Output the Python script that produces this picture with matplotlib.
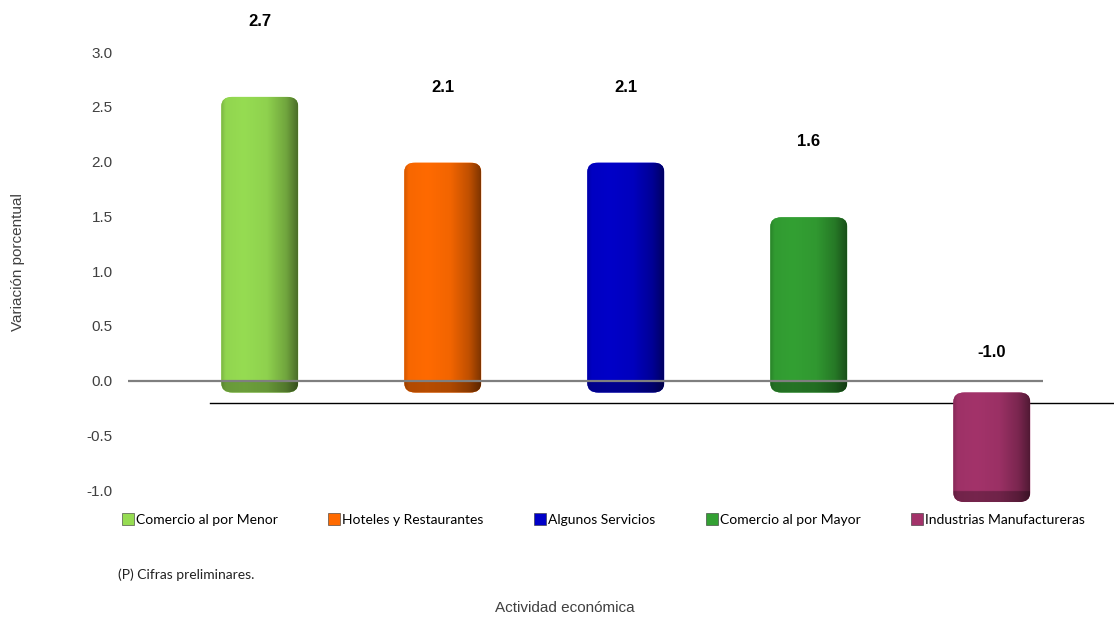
# Variación porcentual por actividad económica (gráfico de cilindros)

import numpy as np
import matplotlib.pyplot as plt
from matplotlib import transforms
from matplotlib.patches import FancyBboxPatch
from matplotlib.lines import Line2D
from matplotlib.colors import to_rgb

# Datos
categories = ["Comercio al por Menor", "Hoteles y Restaurantes", "Algunos Servicios",
              "Comercio al por Mayor", "Industrias Manufactureras"]
values = [2.7, 2.1, 2.1, 1.6, -1.0]
colors = ["#96DC52", "#FF6A00", "#0000C8", "#33A033", "#A3336A"]
yticks = [-1.0, -0.5, 0.0, 0.5, 1.0, 1.5, 2.0, 2.5, 3.0]

arial = "Liberation Sans"
calibri = "Lato"

fig = plt.figure(figsize=(11.14, 6.17), dpi=100)
ax = fig.add_axes([0.1149, 0.2058, 0.8214, 0.7099])

x = np.arange(len(categories))

# los cilindros quedan un poco por delante de la pared del fondo
depth = transforms.offset_copy(ax.transData, fig=fig, x=0, y=-12, units="dots")


def shade(color, h):
    # degradado tipo cilindro: oscuro a la derecha y en la base
    base = np.array(to_rgb(color))
    t = np.linspace(0, 1, 200)
    f = np.interp(t, [0, 0.06, 0.3, 0.6, 0.85, 1.0], [0.82, 0.97, 1.0, 0.95, 0.75, 0.5])
    rows = 300
    s = np.linspace(0, 1, rows)[:, None]          # 0 = arriba, 1 = abajo
    band = 0.1 / h
    v = np.where(s > 1 - band, 0.72, 1.0)
    fac = f[None, :] * v
    return np.clip(base[None, None, :] * fac[:, :, None], 0, 1)


bars = ax.bar(x, values, width=0.42, color=colors)
for bar, c in zip(bars, colors):
    bar.set_visible(False)
    x0, w = bar.get_x(), bar.get_width()
    y0 = min(bar.get_y(), bar.get_y() + bar.get_height())
    h = abs(bar.get_height())
    body = FancyBboxPatch((x0, y0), w, h, boxstyle="round,pad=0,rounding_size=0.06",
                          mutation_aspect=1.4, facecolor=c, edgecolor="none",
                          transform=depth, clip_on=False, zorder=2)
    ax.add_patch(body)
    im = ax.imshow(shade(c, h), extent=[x0, x0 + w, y0, y0 + h], aspect="auto",
                   origin="upper", transform=depth, zorder=2.1, interpolation="bilinear")
    im.set_clip_path(body)
    im.set_clip_box(fig.bbox)

# linea del cero (pared del fondo) y borde del piso
ax.axhline(0, color="#7f7f7f", lw=1.6, zorder=3)
floor = transforms.offset_copy(ax.transData, fig=fig, x=82, y=-22, units="dots")
ax.plot([-0.72, 4.28], [0, 0], color="black", lw=1.0, transform=floor, clip_on=False, zorder=1)

# etiquetas de datos
for xi, v in zip(x, values):
    ly = v + 0.58 if v > 0 else 0.26
    ax.text(xi, ly, f"{v:.1f}", ha="center", va="center", fontsize=12,
            fontweight="bold", family=arial, color="black")

ax.set_xlim(-0.72, 4.28)
ax.set_ylim(-1.0, 3.0)
ax.set_xticks([])
ax.set_yticks(yticks)
ax.set_yticklabels([f"{t:.1f}" for t in yticks], family=arial, fontsize=11, color="#404040")
ax.tick_params(axis="y", length=0, pad=11)
for s in ax.spines.values():
    s.set_visible(False)

fig.text(18 / 1114, 1 - 262 / 617, "Variación porcentual", rotation=90, ha="center",
         va="center", family=arial, fontsize=11, color="#404040")
fig.text(565 / 1114, 1 - 608 / 617, "Actividad económica", ha="center", va="center",
         family=arial, fontsize=11, color="#404040")
fig.text(118 / 1114, 1 - 575 / 617, "(P) Cifras preliminares.", ha="left", va="center",
         family=calibri, fontsize=10, color="#222222")

handles = [Line2D([], [], ls="none", marker="s", markersize=8, markerfacecolor=c,
                  markeredgecolor="#333333", markeredgewidth=0.4) for c in colors]
fig.legend(handles, categories, loc="center", bbox_to_anchor=(604 / 1114, 1 - 520 / 617),
           ncol=5, frameon=False, handlelength=0.7, handletextpad=0.2, columnspacing=3.75,
           prop={"family": calibri, "size": 10})

fig.savefig("out.png", dpi=100)
